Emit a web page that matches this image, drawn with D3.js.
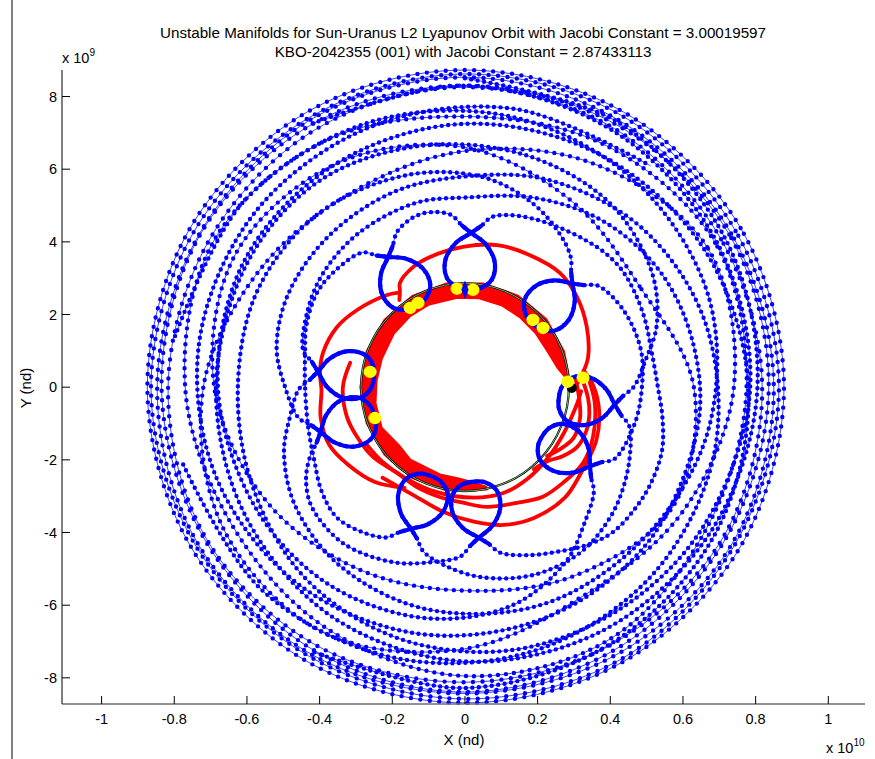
<!DOCTYPE html>
<html><head><meta charset="utf-8">
<script src="https://cdn.jsdelivr.net/npm/d3@7/dist/d3.min.js"></script>
<style>
body{margin:0;background:#fff;}
svg{display:block;font-family:"Liberation Sans",Arial,sans-serif;}
</style></head><body>
<svg id="chart" width="875" height="759"></svg>
<script>
// ---------- text ----------
const titleLines = [
  "Unstable Manifolds for Sun-Uranus L2 Lyapunov Orbit with Jacobi Constant = 3.00019597",
  "KBO-2042355 (001) with Jacobi Constant = 2.87433113"
];
const xLabel = "X (nd)";
const yLabel = "Y (nd)";

// ---------- axes (x in 1e10, y in 1e9) ----------
const xDomain = [-1.109, 1.101];
const yDomain = [-8.72, 8.73];
const xTicks = [-1, -0.8, -0.6, -0.4, -0.2, 0, 0.2, 0.4, 0.6, 0.8, 1];
const yTicks = [-8, -6, -4, -2, 0, 2, 4, 6, 8];

// ---------- trajectory data: [angle deg, radius 1e9] ----------
// close-approach loops (first point = counter-clockwise tail, last = clockwise tail)
const loopL1 = [[94.5,4.75],[91.0,4.45],[87.7,4.25],[81.8,3.98],[76.7,3.55],[76.0,3.05],[81.2,2.76],[87.7,2.70],[94.2,2.76],[99.4,3.05],[98.7,3.55],[93.6,3.98],[87.7,4.25],[84.4,4.45],[80.9,4.75]];
const loopL2 = [[127.3,4.66],[123.8,4.36],[120.5,4.16],[114.6,3.89],[109.5,3.46],[108.8,2.96],[114.0,2.67],[120.5,2.61],[127.0,2.67],[132.2,2.96],[131.5,3.46],[126.4,3.89],[120.5,4.16],[117.2,4.36],[113.7,4.66]];
const loopL3 = [[50.8,4.61],[47.3,4.31],[44,4.11],[38.1,3.84],[33,3.41],[32.3,2.91],[37.5,2.62],[44,2.56],[50.5,2.62],[55.7,2.91],[55,3.41],[49.9,3.84],[44,4.11],[40.7,4.31],[37.2,4.61]];
const loopL4 = [[0.2,4.65],[-3.3,4.35],[-6.6,4.15],[-12.5,3.88],[-17.6,3.45],[-18.3,2.95],[-13.1,2.66],[-6.6,2.60],[-0.1,2.66],[5.1,2.95],[4.4,3.45],[-0.7,3.88],[-6.6,4.15],[-9.9,4.35],[-13.4,4.65]];
const loopL5 = [[-25.5,4.57],[-29,4.27],[-32.3,4.07],[-38.2,3.80],[-43.3,3.37],[-44,2.87],[-38.8,2.58],[-32.3,2.52],[-25.8,2.58],[-20.6,2.87],[-21.3,3.37],[-26.4,3.80],[-32.3,4.07],[-35.6,4.27],[-39.1,4.57]];
const loopL6 = [[-77.9,4.66],[-81.4,4.36],[-84.7,4.16],[-90.6,3.89],[-95.7,3.46],[-96.4,2.96],[-91.2,2.67],[-84.7,2.61],[-78.2,2.67],[-73,2.96],[-73.7,3.46],[-78.8,3.89],[-84.7,4.16],[-88,4.36],[-91.5,4.66]];
const loopL7 = [[-104.1,4.67],[-107.6,4.37],[-110.9,4.17],[-116.8,3.90],[-121.9,3.47],[-122.6,2.97],[-117.4,2.68],[-110.9,2.62],[-104.4,2.68],[-99.2,2.97],[-99.9,3.47],[-105,3.90],[-110.9,4.17],[-114.2,4.37],[-117.7,4.67]];
const loopL8 = [[-156,4.66],[-159.5,4.36],[-162.8,4.16],[-168.7,3.89],[-173.8,3.46],[-174.5,2.96],[-169.3,2.67],[-162.8,2.61],[-156.3,2.67],[-151.1,2.96],[-151.8,3.46],[-156.9,3.89],[-162.8,4.16],[-166.1,4.36],[-169.6,4.66]];
const loopL9 = [[180.7,4.57],[177.2,4.27],[173.9,4.07],[168,3.80],[162.9,3.37],[162.2,2.87],[167.4,2.58],[173.9,2.52],[180.4,2.58],[185.6,2.87],[184.9,3.37],[179.8,3.80],[173.9,4.07],[170.6,4.27],[167.1,4.57]];

// arcs between successive loops
const arcA1 = [[-117.7,4.67],[-125,4.88],[-134.4,5.03],[-143.8,4.88],[-154.6,4.6],[-166,4.45],[-180,4.4],[-192,4.5],[-201,4.68],[-212.5,4.83],[-221.8,4.8],[-232.7,4.66]];
const arcA2 = [[113.7,4.66],[108.5,4.85],[104,4.92],[99,4.88],[94.5,4.75]];
const arcP  = [[80.9,4.75],[75,4.9],[68.1,5.0],[59.9,5.1],[50.8,5.23],[43.8,5.34],[36.8,5.39],[29,5.35],[20.5,5.29],[10.4,5.23],[0,5.31],[-8.8,5.5],[-18,5.7],[-27.8,5.76],[-36,5.75],[-44.4,5.7],[-52,5.5],[-60.8,5.19],[-69,4.95],[-77.9,4.66]];
const arcA4 = [[-13.4,4.65],[-22,4.9],[-32,5.15],[-42,5.37],[-55,5.55],[-70,5.5],[-85,5.25],[-96,4.95],[-104.1,4.67]];
const arcA5 = [[37.2,4.61],[26,4.85],[12,4.95],[0,4.87],[-12,4.78],[-25.5,4.57]];
const arcA6 = [[-91.5,4.66],[-100,4.88],[-112,5.2],[-128,5.45],[-142,5.35],[-150,5.05],[-156,4.66]];

// outward spirals leaving the loops
const spiralS1 = [[50.8,4.61],[58,4.95],[70,5.4],[85,5.8],[105,6.05],[130,6.25],[155,6.3],[180,6.25],[205,6.45],[230,6.85],[255,7.15],[280,7.35],[305,7.45],[330,7.6],[360,7.85],[390,8.0],[420,8.15],[450,8.3],[480,8.38]];
const spiralS2 = [[0.2,4.65],[8,5.0],[18,5.55],[32,6.05],[52,6.45],[75,6.6],[100,6.75],[125,6.95],[150,6.9],[180,6.85],[210,7.0],[240,7.3],[270,7.55],[300,7.7],[330,7.85],[360,8.05],[390,8.25],[420,8.42],[450,8.5]];
const spiralS3 = [[-39.1,4.57],[-48,4.95],[-60,5.55],[-78,6.15],[-100,6.45],[-125,6.6],[-150,6.65],[-180,6.8],[-210,7.0],[-240,7.1],[-270,7.25],[-300,7.4],[-330,7.6],[-360,7.8],[-390,7.98],[-420,8.12],[-450,8.28],[-480,8.4]];
const spiralS4 = [[-169.6,4.66],[-180,4.95],[-192,5.3],[-208,5.5],[-228,5.6],[-250,5.72],[-270,5.8],[-292,6.15],[-318,6.55],[-345,6.85],[-375,7.1],[-405,7.3],[-435,7.5],[-465,7.7],[-495,7.9],[-525,8.05]];
const spiralS5 = [[180.7,4.57],[190,4.9],[200,5.3],[215,5.7],[235,6.0],[260,6.2],[290,6.35],[320,6.45],[350,6.8],[380,7.15],[410,7.35],[440,7.55],[470,7.75],[500,7.95],[530,8.1]];
const spiralS6 = [[167.1,4.57],[155,4.8],[142,5.0],[125,5.15],[105,5.25],[90,5.22],[70,5.55],[50,5.95],[30,6.25],[10,6.4],[-10,6.5],[-40,6.6],[-70,6.72],[-100,6.9],[-130,7.1],[-160,7.28],[-190,7.42],[-220,7.52],[-250,7.62],[-280,7.78],[-310,7.95]];

// middle and outer passes, radius every 30 degrees from 0
const ringAngles = [0,30,60,90,120,150,180,210,240,270,300,330];
const ringM1 = [6.30,5.55,5.90,6.60,7.10,7.30,6.90,6.30,5.80,5.60,6.00,6.60];
const ringM2 = [7.40,7.70,7.10,6.50,6.20,6.50,7.20,7.70,7.80,7.20,6.60,6.90];
const ringM3 = [7.75,7.95,7.70,7.45,7.80,8.00,7.70,7.45,7.65,7.95,8.00,7.70];
const ringR1 = [8.78,8.76,8.74,8.73,8.73,8.74,8.74,8.73,8.71,8.69,8.72,8.76];
const ringR2 = [8.64,8.60,8.63,8.62,8.57,8.60,8.64,8.60,8.56,8.58,8.63,8.60];
const ringR3 = [8.50,8.46,8.48,8.53,8.50,8.44,8.47,8.52,8.48,8.43,8.46,8.52];
const ringR4 = [8.36,8.40,8.34,8.30,8.37,8.41,8.35,8.30,8.35,8.39,8.32,8.30];
const ringR5 = [8.18,8.14,8.22,8.26,8.20,8.12,8.17,8.25,8.20,8.12,8.15,8.22];

// manifold (red) data
const redBandInner = [[5,2.8],[12,2.6],[23,2.48],[37,2.45],[52,2.45],[66,2.47],[81,2.48],[95,2.47],[114,2.48],[128,2.47],[143,2.45],[161,2.42],[176,2.44],[190,2.5],[206,2.55],[221,2.42],[233,2.5],[254,2.5],[266,2.52],[273,2.6],[282,2.8]];
const redBandOuter = [[282,2.88],[260,2.89],[240,2.89],[220,2.89],[200,2.88],[180,2.88],[160,2.88],[140,2.89],[120,2.9],[100,2.9],[80,2.9],[60,2.91],[40,2.92],[20,2.9],[5,2.88]];
const redC1 = [[127,3.0],[124,3.2],[122,3.38],[113.4,3.6],[105,3.71],[90.8,3.86],[77.3,4.01],[63.8,4.05],[50.3,4.09],[38.9,3.96],[26.3,3.74],[13.8,3.49],[6.9,3.27],[2.2,3.11]];
const redC2 = [[125.8,3.2],[130.2,3.32],[144.4,3.65],[154.8,3.89],[166.4,4.02],[174.4,4.01],[181,3.95],[192,4.06],[203,4.06],[213.6,3.86],[226.5,3.6],[239,3.23]];
const redC3 = [[168,3.23],[180,3.36],[194,3.35],[204.7,3.27],[217,3.18],[231.6,3.01],[244.3,3.05],[257,3.1],[269,3.18],[280.4,3.35],[294.2,3.49],[305.4,3.7],[315.7,3.77],[327.3,3.86],[338.8,3.78],[353,3.6],[362,3.44]];
const redC4 = [[227.7,3.37],[244.2,3.29],[260,3.48],[273.8,3.71],[285.8,3.94],[297.8,4.07],[312,4.1],[322.7,3.98],[338,3.9],[350,3.75],[360,3.55],[368,3.3]];
const redC5 = [[210.5,3.13],[222,3.06],[236.5,2.99],[254.5,2.99],[274.6,3.05],[290,3.1],[305,3.05],[320,3.0],[335,3.0],[350,3.1],[358,3.2]];
const redC6 = [[3,3.25],[-5,3.4],[-12,3.5],[-20,3.55],[-28,3.5],[-35,3.3],[-42,3.05],[-50,2.95]];
const redC7 = [[5,3.05],[-5,3.15],[-15,3.28],[-25,3.3],[-32,3.15],[-40,2.95]];

const uranusOrbitR = 2.86;

// markers, cartesian [x 1e10, y 1e9]
const yellowPts = [[-0.151,2.18],[-0.129,2.32],[-0.022,2.71],[0.022,2.68],[0.187,1.85],[0.215,1.63],[0.283,0.15],[0.325,0.26],[-0.261,0.42],[-0.248,-0.85]];
const diamondPt = [0.0, 2.68];
const blackPt = [0.294, -0.02];

// ---------- drawing ----------
const W = 875, H = 759;
const svg = d3.select("#chart");
const pLeft = 62, pRight = 865, pTop = 70, pBottom = 704;

const x = d3.scaleLinear().domain(xDomain).range([pLeft, pRight]);
const y = d3.scaleLinear().domain(yDomain).range([pBottom, pTop]);

const rad = Math.PI / 180;
const polarX = d => d[1] * Math.cos(d[0] * rad) / 10;
const polarY = d => d[1] * Math.sin(d[0] * rad);

const openLine = d3.line().x(d => x(polarX(d))).y(d => y(polarY(d))).curve(d3.curveCatmullRom.alpha(0.5));
const closedLine = d3.line().x(d => x(polarX(d))).y(d => y(polarY(d))).curve(d3.curveCatmullRomClosed.alpha(0.5));
const polyLine = d3.line().x(d => x(polarX(d))).y(d => y(polarY(d))).curve(d3.curveLinearClosed);

// join pieces that share an end point into one continuous track
function chain(...pieces) {
  return pieces.reduce((acc, p) => acc.length ? acc.concat(p.slice(1)) : p.slice(), []);
}
const rev = a => a.slice().reverse();
const trackA = chain(rev(spiralS2), loopL4, arcA4, loopL7, arcA1, loopL2, arcA2, loopL1, arcP, loopL6, arcA6, loopL8, spiralS4);
const trackB = chain(rev(spiralS1), loopL3, arcA5, loopL5, spiralS3);
const trackC = chain(rev(spiralS5), loopL9, spiralS6);

// figure frame line
svg.append("line").attr("x1", 12).attr("x2", 12).attr("y1", 0).attr("y2", H)
  .attr("stroke", "#000").attr("stroke-width", 1);

const plot = svg.append("g");

// red manifolds
plot.append("path").attr("d", polyLine(redBandInner.concat(redBandOuter)))
  .attr("fill", "#ff0000").attr("stroke", "#ff0000").attr("stroke-width", 2).attr("stroke-linejoin", "round");
[redC1, redC2, redC3, redC4, redC5, redC6, redC7].forEach(c => {
  plot.append("path").attr("d", openLine(c)).attr("fill", "none")
    .attr("stroke", "#ff0000").attr("stroke-width", 3.8).attr("stroke-linecap", "round");
});

// Uranus orbit
const orbitPx = x(uranusOrbitR / 10) - x(0);
plot.append("circle").attr("cx", x(0)).attr("cy", y(0)).attr("r", orbitPx)
  .attr("fill", "none").attr("stroke", "#000").attr("stroke-width", 2.2);
plot.append("circle").attr("cx", x(0)).attr("cy", y(0)).attr("r", orbitPx)
  .attr("fill", "none").attr("stroke", "#7fc87f").attr("stroke-width", 0.9);

// blue trajectory: thin line plus point markers
function dotted(gen, data, spacing) {
  const d = gen(data);
  plot.append("path").attr("d", d).attr("fill", "none")
    .attr("stroke", "#2a2aff").attr("stroke-width", 0.9);
  plot.append("path").attr("d", d).attr("fill", "none")
    .attr("stroke", "#0000ff").attr("stroke-width", 4.4).attr("stroke-linecap", "round")
    .attr("stroke-dasharray", `0 ${spacing}`);
}
[ringR1, ringR2, ringR3, ringR4, ringR5].forEach(rs => {
  dotted(closedLine, ringAngles.map((a, i) => [a, rs[i]]), 9.5);
});
[ringM1, ringM2, ringM3].forEach(rs => {
  dotted(closedLine, ringAngles.map((a, i) => [a, rs[i]]), 8);
});
[trackA, trackB, trackC].forEach(t => dotted(openLine, t, 6.5));

// slow passage near the orbit: markers merge into a solid stroke
[loopL1, loopL2, loopL3, loopL4, loopL5, loopL6, loopL7, loopL8, loopL9].forEach(l => {
  plot.append("path").attr("d", openLine(l.slice(1, l.length - 1))).attr("fill", "none")
    .attr("stroke", "#0000ff").attr("stroke-width", 4.2).attr("stroke-linecap", "round");
});

// markers
plot.append("circle").attr("cx", x(blackPt[0])).attr("cy", y(blackPt[1])).attr("r", 5).attr("fill", "#000");
plot.selectAll(".yp").data(yellowPts).enter().append("ellipse")
  .attr("cx", d => x(d[0])).attr("cy", d => y(d[1])).attr("rx", 6.5).attr("ry", 6.2)
  .attr("fill", "#ffff00");
plot.append("path").attr("d", d3.symbol().type(d3.symbolDiamond).size(70)())
  .attr("transform", `translate(${x(diamondPt[0])},${y(diamondPt[1])}) scale(0.8,1.2)`)
  .attr("fill", "#0000ff");

// axes
const axG = svg.append("g");
axG.append("line").attr("x1", pLeft).attr("x2", pRight).attr("y1", pBottom).attr("y2", pBottom)
  .attr("stroke", "#6e6e6e").attr("stroke-width", 1.6);
axG.append("line").attr("x1", pLeft).attr("x2", pLeft).attr("y1", pTop).attr("y2", pBottom)
  .attr("stroke", "#000").attr("stroke-width", 1);

xTicks.forEach(t => {
  axG.append("line").attr("x1", x(t)).attr("x2", x(t)).attr("y1", pBottom).attr("y2", pBottom - 8)
    .attr("stroke", "#000").attr("stroke-width", 1);
  axG.append("text").attr("x", x(t)).attr("y", 724).attr("text-anchor", "middle")
    .attr("font-size", 14.5).text(t);
});
yTicks.forEach(t => {
  axG.append("line").attr("x1", pLeft).attr("x2", pLeft + 8).attr("y1", y(t)).attr("y2", y(t))
    .attr("stroke", "#000").attr("stroke-width", 1);
  axG.append("text").attr("x", 57).attr("y", y(t) + 5).attr("text-anchor", "end")
    .attr("font-size", 14.5).text(t);
});

// exponent labels
const ex = axG.append("text").attr("x", 62).attr("y", 63).attr("font-size", 14.5);
ex.append("tspan").text("x 10");
ex.append("tspan").attr("font-size", 10).attr("dy", -7).text("9");
const ex2 = axG.append("text").attr("x", 826).attr("y", 753).attr("font-size", 14.5);
ex2.append("tspan").text("x 10");
ex2.append("tspan").attr("font-size", 10).attr("dy", -7).text("10");

// axis labels
axG.append("text").attr("x", 464).attr("y", 745).attr("text-anchor", "middle").attr("font-size", 15).text(xLabel);
axG.append("text").attr("transform", "translate(31,388) rotate(-90)").attr("text-anchor", "middle")
  .attr("font-size", 15).text(yLabel);

// title
titleLines.forEach((s, i) => {
  svg.append("text").attr("x", 463).attr("y", 38 + i * 19).attr("text-anchor", "middle")
    .attr("font-size", 15.2).text(s);
});
</script>
</body></html>
